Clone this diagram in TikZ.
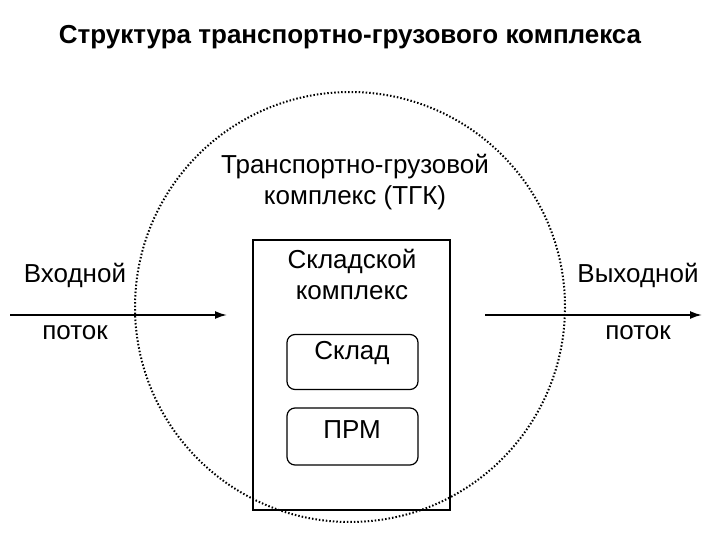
\documentclass[tikz,border=0pt]{standalone}
\usepackage{fontspec}
\setmainfont{Liberation Sans}
\usetikzlibrary{arrows.meta}
\begin{document}
\begin{tikzpicture}[x=1pt,y=-1pt,
  lbl/.style={font=\fontsize{26}{30}\selectfont,align=center,inner sep=0},
  flow/.style={line width=1.8pt,-{Latex[length=12pt,width=8pt]}},
  inner/.style={draw,line width=1.2pt,rounded corners=8pt}]
\useasboundingbox (0,0) rectangle (720,540);
\node[font=\bfseries\fontsize{26}{30}\selectfont] (title) at (350,37) {Структура транспортно-грузового комплекса};
\draw[line width=2pt,dash pattern=on 1.5pt off 2pt] (350,307) circle[radius=215];
\node[lbl] (tgk) at (355,182) {Транспортно-грузовой\\[1pt]комплекс (ТГК)};
\node[draw,line width=1.2pt,minimum width=197,minimum height=270,inner sep=0] (sk) at (351.5,375) {};
\node[lbl] (skt) at (352,274) {Складской\\[1pt]комплекс};
\node[inner,minimum width=131,minimum height=55] (sklad) at (352.5,362) {};
\node[lbl] at (352,353) {Склад};
\node[inner,minimum width=131,minimum height=57] (prm) at (352.5,436.5) {};
\node[lbl] at (352,430) {ПРМ};
\coordinate (a1) at (10,315); \coordinate (a2) at (227,315);
\coordinate (b1) at (485,315); \coordinate (b2) at (702,315);
\draw[flow] (a1) -- (a2);
\draw[flow] (b1) -- (b2);
\node[lbl] (vin) at (75,275) {Входной};
\node[lbl] (pin) at (75,333) {поток};
\node[lbl] (vout) at (638,275) {Выходной};
\node[lbl] (pout) at (638,333) {поток};
\end{tikzpicture}
\end{document}
